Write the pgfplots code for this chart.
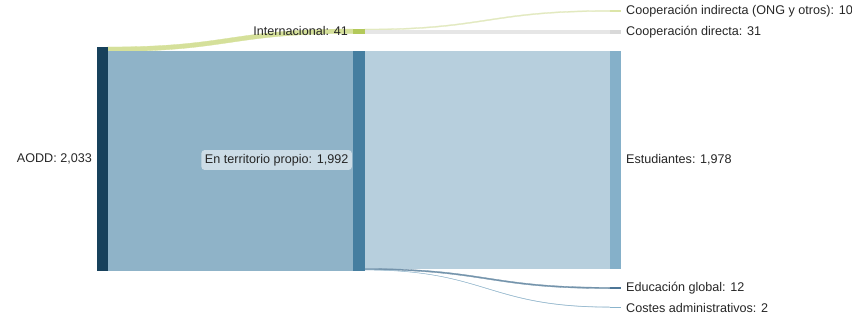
\documentclass[border=0pt]{standalone}
\usepackage{pgfplots}
\pgfplotsset{compat=1.18}
\usepackage{fontspec}
\setmainfont{Liberation Sans}
\definecolor{cAODD}{HTML}{17415C}
\definecolor{cInt}{HTML}{B3C95A}
\definecolor{fInt}{HTML}{D5E09A}
\definecolor{cTer}{HTML}{457EA0}
\definecolor{fTer}{HTML}{8FB3C8}
\definecolor{cEst}{HTML}{85B0C9}
\definecolor{fEst}{HTML}{B7CFDD}
\definecolor{cDir}{HTML}{D9D9D9}
\definecolor{fDir}{HTML}{E6E6E6}
\definecolor{cInd}{HTML}{DCE5A8}
\definecolor{fInd}{HTML}{E2E9BF}
\definecolor{cEdu}{HTML}{4C7596}
\definecolor{fEdu}{HTML}{7393AB}
\definecolor{cCos}{HTML}{8AB4CC}
\definecolor{fCos}{HTML}{9DBDD1}
\definecolor{txt}{HTML}{262626}
% flow: x0, x1, xmid, y0 top, y0 bottom, y1 top, y1 bottom, colour
\newcommand{\flow}[8]{%
  \filldraw[fill=#8, draw=#8, line width=0.3pt]
    (axis cs:#1,#4) .. controls (axis cs:#3,#4) and (axis cs:#3,#6) .. (axis cs:#2,#6)
    -- (axis cs:#2,#7) .. controls (axis cs:#3,#7) and (axis cs:#3,#5) .. (axis cs:#1,#5) -- cycle;}
\newcommand{\nodebar}[5]{%
  \addplot[fill=#5, draw=#5, line width=0.3pt] coordinates {(#1,#3) (#2,#3) (#2,#4) (#1,#4)} -- cycle;}
\begin{document}
\fontsize{12.6}{15}\selectfont
\begin{tikzpicture}[every node/.append style={font=\fontsize{12.6}{15}\selectfont}]
\begin{axis}[
  scale only axis, width=852pt, height=319pt,
  xmin=0, xmax=852, ymin=0, ymax=319, y dir=reverse,
  hide axis, clip=false,
]
% flows (values: AODD 2033 -> Internacional 41, En territorio propio 1992, ...)
\flow{107}{353}{230}{47}{51.5}{29}{33.5}{fInt}
\flow{107}{353}{230}{51.5}{270}{51.5}{270}{fTer}
\flow{364}{610}{487}{29}{30.1}{10.4}{11.5}{fInd}
\flow{364}{610}{487}{30.1}{33.5}{30.1}{33.5}{fDir}
\flow{364}{610}{487}{51.5}{268.5}{51.5}{268.5}{fEst}
\flow{364}{610}{487}{268.5}{269.8}{287.3}{288.6}{fEdu}
\flow{364}{610}{487}{269.8}{270}{306.9}{307.3}{fCos}
% nodes
\nodebar{97}{107}{47}{270}{cAODD}
\nodebar{353}{364}{29}{33.5}{cInt}
\nodebar{353}{364}{51.5}{270}{cTer}
\nodebar{610}{620}{51.5}{268.5}{cEst}
\nodebar{610}{620}{10.4}{11.5}{cInd}
\nodebar{610}{620}{30.1}{33.5}{cDir}
\nodebar{610}{620}{287.3}{288.6}{cEdu}
\nodebar{610}{620}{306.9}{307.3}{cCos}
% labels
\node[anchor=east, inner sep=0pt, text=txt] at (axis cs:92,158.5) {AODD: 2,033};
\node[anchor=east, inner sep=0pt, text=txt] at (axis cs:348,31) {Internacional: 41};
\node[anchor=east, fill=white, fill opacity=0.55, text opacity=1, text=txt, rounded corners=3pt, inner xsep=3.5pt, inner ysep=4pt] at (axis cs:352,160) {En territorio propio: 1,992};
\node[anchor=west, inner sep=0pt, text=txt] at (axis cs:626,160) {Estudiantes: 1,978};
\node[anchor=west, inner sep=0pt, text=txt] at (axis cs:626,11) {Cooperación indirecta (ONG y otros): 10};
\node[anchor=west, inner sep=0pt, text=txt] at (axis cs:626,32) {Cooperación directa: 31};
\node[anchor=west, inner sep=0pt, text=txt] at (axis cs:626,288) {Educación global: 12};
\node[anchor=west, inner sep=0pt, text=txt] at (axis cs:626,307.5) {Costes administrativos: 2};
\end{axis}
\pgfresetboundingbox
\useasboundingbox (0,0) rectangle (852pt,319pt);
\end{tikzpicture}
\end{document}
